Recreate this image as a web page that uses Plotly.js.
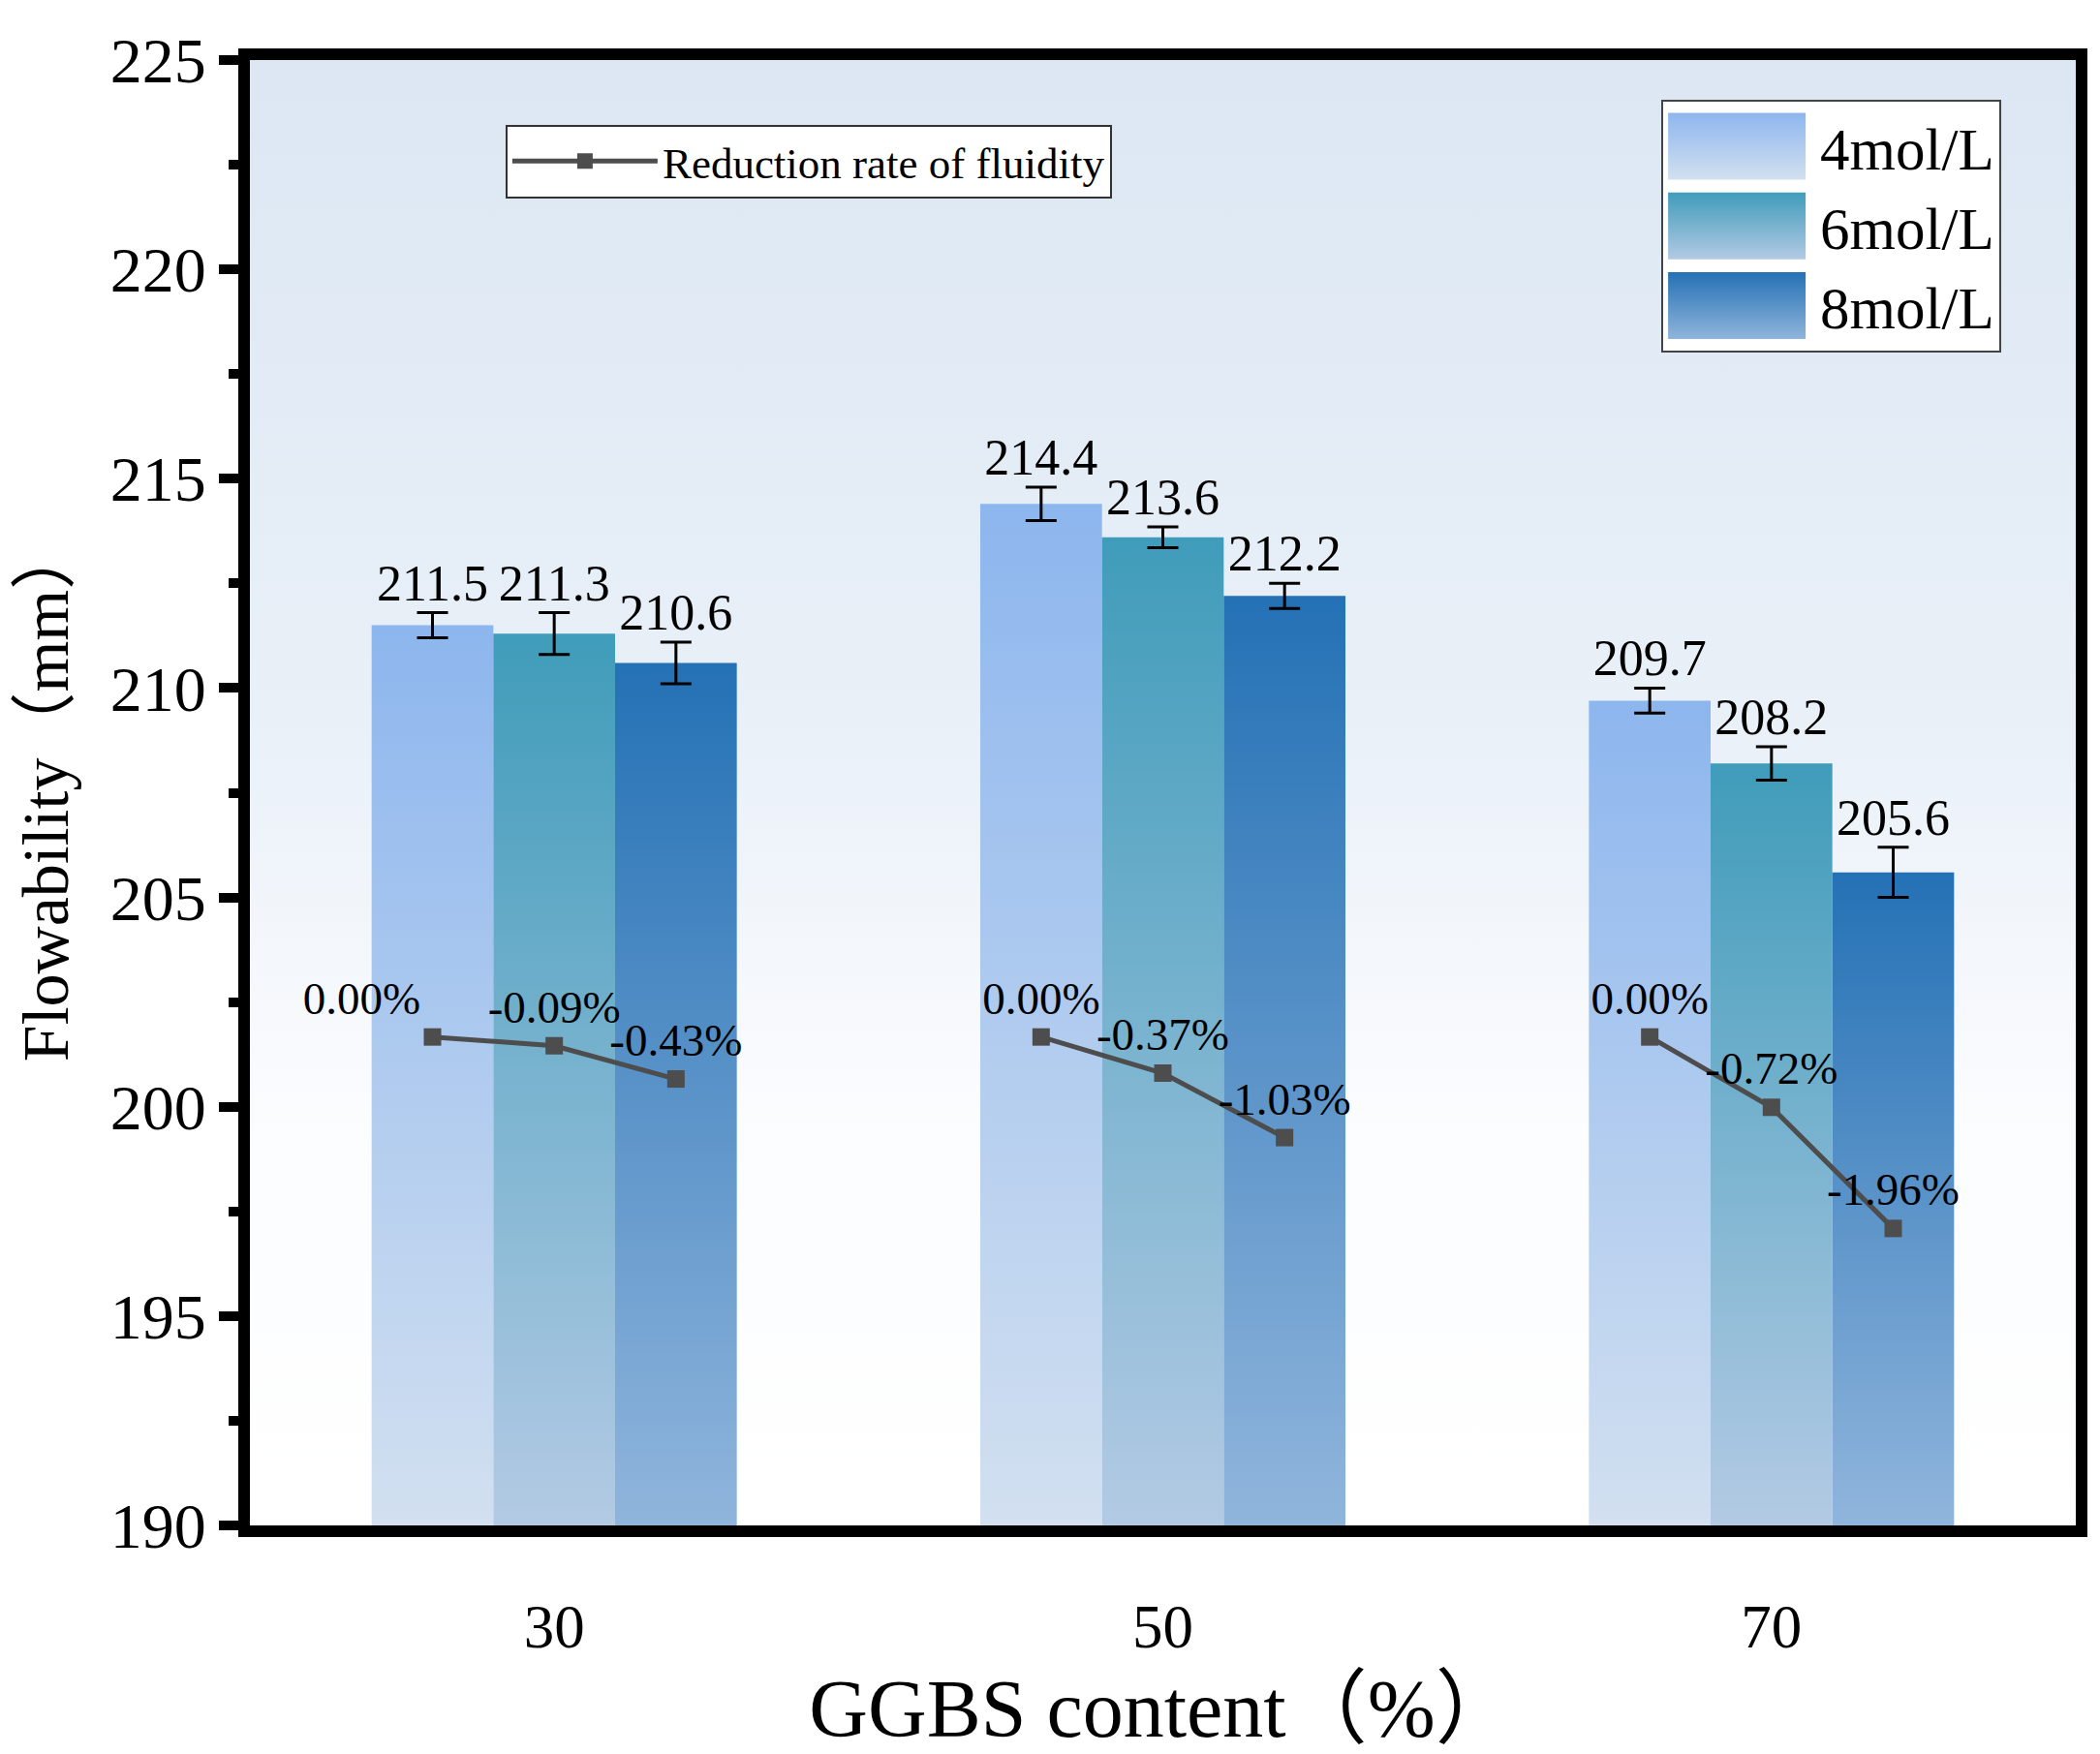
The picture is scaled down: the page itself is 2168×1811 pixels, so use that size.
<!DOCTYPE html>
<html>
<head>
<meta charset="utf-8">
<script src="https://cdn.plot.ly/plotly-3.0.1.min.js"></script>
<style>
  body { margin: 0; background: #fff; }
  #chart { width: 2168px; height: 1811px; }
</style>
</head>
<body>
<div id="chart"></div>
<script>
// data
const categories = [30, 50, 70];
const seriesNames = ['4mol/L', '6mol/L', '8mol/L'];
const flow4 = [211.5, 214.4, 209.7];
const flow6 = [211.3, 213.6, 208.2];
const flow8 = [210.6, 212.2, 205.6];
const err4 = [0.3, 0.4, 0.3];
const err6 = [0.5, 0.25, 0.4];
const err8 = [0.5, 0.3, 0.6];
const rate30 = [0, -0.09, -0.43];
const rate50 = [0, -0.37, -1.03];
const rate70 = [0, -0.72, -1.96];

const serif = '"Times New Roman", "Liberation Serif", "Noto Sans CJK SC", serif';
const barWidth = 4;
const offsets = [-barWidth, 0, barWidth];
const flows = [flow4, flow6, flow8];
const errs = [err4, err6, err8];
const rates = [rate30, rate50, rate70];
const topColors = ['#8db6ee', '#3f9cba', '#2471b5'];
const botColors = ['#d2e0f0', '#b3cae4', '#90b5dc'];

let traces = [];

// bars
for (var s = 0; s < 3; s++) {
  traces.push({
    type: 'bar',
    name: seriesNames[s],
    x: categories,
    y: flows[s],
    legend: 'legend2',
    marker: {color: topColors[s], line: {width: 0}},
    error_y: {type: 'data', array: errs[s], visible: true, color: '#000', thickness: 3, width: 16}
  });
}

// value labels above the error bars
for (var s = 0; s < 3; s++) {
  traces.push({
    type: 'scatter',
    mode: 'text',
    x: categories.map(c => c + offsets[s]),
    y: flows[s].map((v, i) => v + errs[s][i]),
    text: flows[s].map(v => v.toFixed(1)),
    textposition: 'top center',
    textfont: {family: serif, size: 52, color: '#000'},
    cliponaxis: false,
    showlegend: false
  });
}

// reduction rate lines (one per group)
for (var g = 0; g < 3; g++) {
  traces.push({
    type: 'scatter',
    mode: 'lines+markers+text',
    name: 'Reduction rate of fluidity',
    legend: 'legend',
    showlegend: g === 0,
    x: offsets.map(o => categories[g] + o),
    y: rates[g],
    yaxis: 'y2',
    text: rates[g].map(r => r.toFixed(2) + '%'),
    textposition: g === 0 ? ['top left', 'top center', 'top center'] : 'top center',
    textfont: {family: serif, size: 47, color: '#000'},
    line: {color: '#4d4d4d', width: 5},
    marker: {symbol: 'square', size: 18, color: '#4d4d4d'},
    cliponaxis: false
  });
}

const layout = {
  width: 2168,
  height: 1811,
  margin: {l: 258, r: 25, t: 62, b: 236},
  paper_bgcolor: '#ffffff',
  plot_bgcolor: '#e8eff8',
  font: {family: serif, color: '#000'},
  barmode: 'group',
  bargap: 0.4,
  bargroupgap: 0,
  xaxis: {
    range: [20, 80],
    tickvals: categories,
    ticktext: categories.map(String),
    ticks: '',
    showline: true, mirror: true, linewidth: 12, linecolor: '#000',
    showgrid: false, zeroline: false,
    tickfont: {family: serif, size: 63},
    ticklabelstandoff: 38,
    title: {text: 'GGBS content（%）', font: {family: serif, size: 84}, standoff: 52}
  },
  yaxis: {
    range: [190, 225],
    tick0: 190, dtick: 5,
    ticks: 'outside', ticklen: 20, tickwidth: 10, tickcolor: '#000',
    minor: {dtick: 2.5, ticks: 'outside', ticklen: 10, tickwidth: 10, tickcolor: '#000', showgrid: false},
    showline: true, mirror: true, linewidth: 12, linecolor: '#000',
    showgrid: false, zeroline: false,
    tickfont: {family: serif, size: 66},
    title: {text: 'Flowability（mm）', font: {family: serif, size: 68}, standoff: 26}
  },
  yaxis2: {overlaying: 'y', range: [-5, 10], visible: false},
  legend: {
    x: 0.140, y: 0.956, xanchor: 'left', yanchor: 'top',
    bgcolor: '#ffffff', bordercolor: '#333', borderwidth: 2,
    font: {family: serif, size: 45, color: '#000'},
    itemwidth: 150
  },
  legend2: {
    x: 0.773, y: 0.973, xanchor: 'left', yanchor: 'top',
    bgcolor: '#ffffff', bordercolor: '#444', borderwidth: 2,
    font: {family: serif, size: 61, color: '#000'},
    itemwidth: 152
  },
  showlegend: true
};

const svgNS = 'http://www.w3.org/2000/svg';

function makeGrad(defs, id, stops, box) {
  var old = document.getElementById(id);
  if (old) old.remove();
  var lg = document.createElementNS(svgNS, 'linearGradient');
  lg.setAttribute('id', id);
  lg.setAttribute('x1', '0'); lg.setAttribute('x2', '0');
  if (box) {
    lg.setAttribute('gradientUnits', 'userSpaceOnUse');
    lg.setAttribute('y1', box[0]); lg.setAttribute('y2', box[1]);
  } else {
    lg.setAttribute('y1', '0'); lg.setAttribute('y2', '1');
  }
  stops.forEach(function(st) {
    var el = document.createElementNS(svgNS, 'stop');
    el.setAttribute('offset', st[0]);
    el.setAttribute('stop-color', st[1]);
    lg.appendChild(el);
  });
  defs.appendChild(lg);
}

function applyGradients() {
  var gd = document.getElementById('chart');
  var defs = gd.querySelector('svg.main-svg defs');
  var plotH = gd._fullLayout._size.h;

  // each bar fades from its own top down to the bottom of the plot area
  gd.querySelectorAll('g.trace.bars').forEach(function(t, i) {
    t.querySelectorAll('g.point path').forEach(function(p, j) {
      var top = p.getBBox().y;
      var id = 'bargrad' + i + '_' + j;
      makeGrad(defs, id, [['0', topColors[i]], ['1', botColors[i]]], [top, plotH]);
      p.style.setProperty('fill', 'url(#' + id + ')', 'important');
    });
  });

  // bigger gradient swatches in the concentration legend
  gd.querySelectorAll('.legend2 .legendpoints path').forEach(function(p, i) {
    makeGrad(defs, 'leggrad' + i, [['0', topColors[i]], ['1', botColors[i]]]);
    p.setAttribute('d', 'M-76,34.5H66V-34.5H-76Z');
    p.style.setProperty('fill', 'url(#leggrad' + i + ')', 'important');
  });

  makeGrad(defs, 'bggrad', [['0', '#dce7f3'], ['0.45', '#e9f0f8'], ['0.72', '#fbfcfe'], ['1', '#ffffff']]);
  gd.querySelectorAll('rect.bg').forEach(function(r) {
    if (!r.closest('.infolayer')) r.style.fill = 'url(#bggrad)';
  });
}

Plotly.newPlot('chart', traces, layout, {staticPlot: true}).then(function(gd) {
  applyGradients();
});
</script>
</body>
</html>
